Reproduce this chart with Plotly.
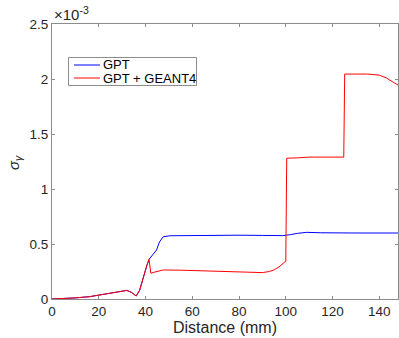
import plotly.graph_objects as go

# Distance (mm) and sigma_gamma (x1e-3)
gpt_x = [0, 5, 10, 16, 20.5, 26, 30, 32, 34, 36, 37.5, 39, 40.5, 41.5, 43, 44.7, 46, 47.6, 50.5, 60, 70, 80, 90, 98.7, 102, 105, 109, 115, 130, 148]
gpt_y = [0, 0.004, 0.01, 0.021, 0.036, 0.055, 0.07, 0.078, 0.06, 0.027, 0.08, 0.2, 0.3, 0.36, 0.4, 0.445, 0.52, 0.566, 0.575, 0.578, 0.58, 0.58, 0.578, 0.576, 0.585, 0.597, 0.606, 0.602, 0.6, 0.6]

g4_x = [0, 5, 10, 16, 20.5, 26, 30, 32, 34, 36, 37.5, 39, 40.5, 41.5, 42.3, 44, 46, 47.6, 55, 63, 70, 80, 90, 93, 95, 97, 98, 99.5, 100, 100.4, 105, 110, 124.8, 125.2, 130, 135, 140, 143, 146, 148]
g4_y = [0, 0.004, 0.01, 0.021, 0.036, 0.055, 0.07, 0.078, 0.06, 0.027, 0.08, 0.2, 0.3, 0.36, 0.234, 0.245, 0.258, 0.264, 0.262, 0.257, 0.252, 0.242, 0.24, 0.25, 0.265, 0.29, 0.31, 0.335, 0.34, 1.28, 1.283, 1.29, 1.29, 2.045, 2.045, 2.045, 2.035, 2.01, 1.97, 1.945]

series_names = ["GPT", "GPT + GEANT4"]
series_colors = ["#0000ff", "#ff0000"]

x_ticks = [0, 20, 40, 60, 80, 100, 120, 140]
y_ticks = [0, 0.5, 1, 1.5, 2, 2.5]
y_tick_text = ["0", "0.5", "1", "1.5", "2", "2.5"]

fig = go.Figure()
for xs, ys, nm, col in [(gpt_x, gpt_y, series_names[0], series_colors[0]),
                        (g4_x, g4_y, series_names[1], series_colors[1])]:
    fig.add_trace(go.Scatter(x=xs, y=ys, mode="lines", name=nm,
                             line=dict(color=col, width=1), showlegend=False))

axis_common = dict(showgrid=False, zeroline=False, showline=True, linecolor="#8c8c8c",
                   linewidth=1, mirror="ticks", ticks="inside", ticklen=3,
                   tickcolor="#8c8c8c", tickfont=dict(size=13.5, color="#262626"),
                   automargin=False)

W, H = 399, 338
ML, MR, MT, MB = 52, 1, 24, 39
PW, PH = W - ML - MR, H - MT - MB

def px_x(p):
    return (p - ML) / PW

def px_y(p):
    return (H - MB - p) / PH

fig.update_layout(
    width=W, height=H,
    margin=dict(l=ML, r=MR, t=MT, b=MB),
    plot_bgcolor="white", paper_bgcolor="white",
    font=dict(family="Liberation Sans, Arial, sans-serif", color="#262626"),
    xaxis=dict(range=[0, 148], tickvals=x_ticks,
               title=dict(text="Distance (mm)", font=dict(size=16), standoff=0),
               **axis_common),
    yaxis=dict(range=[0, 2.5], tickvals=y_ticks, ticktext=y_tick_text,
               **axis_common),
    showlegend=False,
)

# legend box drawn by hand (layout decoration)
fig.add_shape(type="rect", xref="paper", yref="paper",
              x0=px_x(68.5), x1=px_x(196.5), y0=px_y(85.5), y1=px_y(57.5),
              line=dict(color="#8c8c8c", width=1), fillcolor="white", layer="above")
for i, (nm, col) in enumerate(zip(series_names, series_colors)):
    yy = 65 + 13 * i
    fig.add_shape(type="line", xref="paper", yref="paper",
                  x0=px_x(74), x1=px_x(100), y0=px_y(yy), y1=px_y(yy),
                  line=dict(color=col, width=1), layer="above")
    fig.add_annotation(text=nm, xref="paper", yref="paper",
                       x=px_x(100.5), y=px_y(yy), xanchor="left", yanchor="middle",
                       showarrow=False, font=dict(size=13, color="#000000"))

fig.add_annotation(text="×10<sup>-3</sup>", xref="paper", yref="paper",
                   x=0.0, y=1.0, xanchor="left", yanchor="bottom",
                   showarrow=False, font=dict(size=15, color="#262626"), yshift=-1)
fig.add_annotation(text="<i>σ<sub>γ</sub></i>", xref="paper", yref="paper",
                   x=px_x(15), y=px_y(163), xanchor="center", yanchor="middle",
                   textangle=-90, showarrow=False, font=dict(size=15, color="#262626"))

fig.write_html("out.html", config={"displayModeBar": False},
               post_script="document.body.style.margin='0';document.body.style.padding='0';")
